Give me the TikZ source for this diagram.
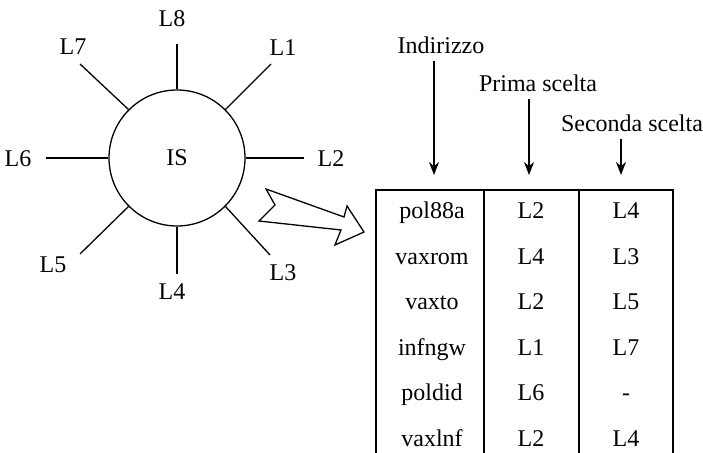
\documentclass[tikz,border=0pt]{standalone}
\usepackage{fontspec}
\setmainfont{Liberation Serif}
\newfontfamily\timesfont{Liberation Serif}
\usetikzlibrary{arrows.meta}
\begin{document}
\begin{tikzpicture}[x=0.5pt, y=-0.5pt, >={Stealth[length=6.5pt,width=5pt]}, line width=0.65pt,
		font=\timesfont\fontsize{12}{14}\selectfont]
		\useasboundingbox (0,0) rectangle (703,453);
		
		% nodo IS e linee
		\node[draw, circle, minimum size=68pt, inner sep=0pt] (IS) at (177,158) {IS};
		\foreach \ang/\ex/\ey/\lx/\ly/\lab in {90/177/44/172/19/L8, 45/271/64/283/48/L1,
			0/304/158/331/159/L2, -45/270/255/283/273/L3, -90/177/274/172/292/L4,
			-135/80/254/53/265/L5, 180/46/158/18/159/L6, 135/80/64/73/47/L7} {
			\coordinate (e\lab) at (\ex,\ey);
			\node (n\lab) at (\lx,\ly) {\lab};
			\draw (IS.\ang) -- (e\lab);
		}
		
		% freccia grande
		\draw[line join=miter] (266,189) -- (275,205) -- (259,221) -- (341,230) -- (335,245)
			-- (364,232) -- (347,206) -- (344,217) -- cycle;
		
		% tabella
		\draw (376,453) |- (673,190) -- (673,453);
		\draw (484,190) -- (484,453);
		\draw (579,190) -- (579,453);
		\foreach \addr/\pa/\sb [count=\i] in {pol88a/L2/L4, vaxrom/L4/L3, vaxto/L2/L5,
			infngw/L1/L7, poldid/L6/-, vaxlnf/L2/L4} {
			\node[anchor=base] (addr\i) at (432,{219+45.5*(\i-1)}) {\addr};
			\node[anchor=base] (first\i) at (531,{219+45.5*(\i-1)}) {\pa};
			\node[anchor=base] (second\i) at (626,{219+45.5*(\i-1)}) {\sb};
		}
		
		% intestazioni
		\node (hInd) at (441,45) {Indirizzo};
		\node (hPrima) at (538,83) {Prima scelta};
		\node (hSeconda) at (632,123) {Seconda scelta};
		\coordinate (aInd) at (434,175);
		\coordinate (aPrima) at (529,175);
		\coordinate (aSeconda) at (621,175);
		\draw[->] (hInd.south -| aInd) -- (aInd);
		\draw[->] (hPrima.south -| aPrima) -- (aPrima);
		\draw[->] (hSeconda.south -| aSeconda) -- (aSeconda);
	\end{tikzpicture}
\end{document}
